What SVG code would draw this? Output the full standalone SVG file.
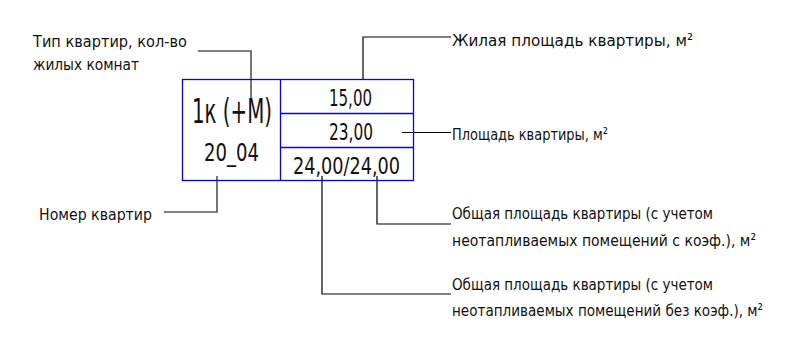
<svg xmlns="http://www.w3.org/2000/svg" width="795" height="337" viewBox="0 0 795 337">
<style>
text{font-family:"DejaVu Sans Condensed","Liberation Sans Narrow",sans-serif;fill:#111;}
.lbl{font-size:16.5px;}
.cell{font-size:23px;}
.box{fill:none;stroke:#0000ff;stroke-width:1.3;}
.ld{fill:none;stroke:#000;stroke-width:1.2;}
.ldg{fill:none;stroke:#555;stroke-width:1.6;}
</style>
<rect width="795" height="337" fill="#fff"/>
<g id="connectors">
<polyline class="ldg" points="198,51 251,51 251,98"/>
<polyline class="ld" points="363,80 363,37 451,37"/>
<line class="ld" x1="402" y1="132.5" x2="451" y2="132.5"/>
<polyline class="ldg" points="164,212 217,212 217,176"/>
<polyline class="ld" points="377,176 377,224 451,224"/>
<polyline class="ld" points="322,176 322,294 451,294"/>
</g>
<g id="table">
<rect class="box" x="182.5" y="79.5" width="231" height="101"/>
<line class="box" x1="280.5" y1="79.5" x2="280.5" y2="180.5"/>
<line class="box" x1="280.5" y1="113.5" x2="413.5" y2="113.5"/>
<line class="box" x1="280.5" y1="147.5" x2="413.5" y2="147.5"/>
<text x="192" y="123" style="font-size:33px" textLength="80" lengthAdjust="spacingAndGlyphs">1к (+М)</text>
<text x="204" y="161" style="font-size:25px" textLength="55" lengthAdjust="spacingAndGlyphs">20_04</text>
<text class="cell" x="329" y="106" textLength="43" lengthAdjust="spacingAndGlyphs">15,00</text>
<text class="cell" x="329" y="140" textLength="44" lengthAdjust="spacingAndGlyphs">23,00</text>
<text class="cell" x="293" y="174" textLength="107" lengthAdjust="spacingAndGlyphs">24,00/24,00</text>
</g>
<g id="label-type">
<text class="lbl" x="33" y="47" textLength="154" lengthAdjust="spacingAndGlyphs">Тип квартир, кол-во</text>
<text class="lbl" x="33" y="70" textLength="106" lengthAdjust="spacingAndGlyphs">жилых комнат</text>
</g>
<g id="label-living">
<text class="lbl" x="452" y="46" textLength="241" lengthAdjust="spacingAndGlyphs">Жилая площадь квартиры, м²</text>
</g>
<g id="label-area">
<text class="lbl" x="452" y="140" textLength="156" lengthAdjust="spacingAndGlyphs">Площадь квартиры, м²</text>
</g>
<g id="label-number">
<text class="lbl" x="39" y="220" textLength="113" lengthAdjust="spacingAndGlyphs">Номер квартир</text>
</g>
<g id="label-total-coef">
<text class="lbl" x="452" y="219" textLength="261" lengthAdjust="spacingAndGlyphs">Общая площадь квартиры (с учетом</text>
<text class="lbl" x="452" y="246" textLength="304" lengthAdjust="spacingAndGlyphs">неотапливаемых помещений с коэф.), м²</text>
</g>
<g id="label-total-nocoef">
<text class="lbl" x="452" y="290" textLength="261" lengthAdjust="spacingAndGlyphs">Общая площадь квартиры (с учетом</text>
<text class="lbl" x="452" y="316" textLength="311" lengthAdjust="spacingAndGlyphs">неотапливаемых помещений без коэф.), м²</text>
</g>
</svg>
